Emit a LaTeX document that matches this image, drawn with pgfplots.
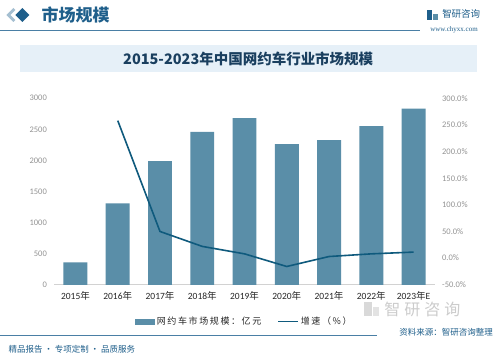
\documentclass[border=0pt]{standalone}
\usepackage{pgfplots}
\pgfplotsset{compat=1.18}
\usepackage{fontspec}
\setmainfont{Carlito}
\newfontfamily\cjk{Noto Sans CJK SC}
\newfontfamily\cjklight[LetterSpace=25]{Noto Sans CJK SC}
\newfontfamily\cjkleg[LetterSpace=18]{Noto Sans CJK SC}
\definecolor{barc}{HTML}{5A8EA8}
\definecolor{linec}{HTML}{0F5A7D}
\definecolor{hdr}{HTML}{1F5F8B}
\definecolor{ttl}{HTML}{1A3F5F}
\definecolor{banner}{HTML}{E6F0F8}
\definecolor{rule}{HTML}{4A7FA5}
\begin{document}
\begin{tikzpicture}[x=1pt,y=1pt]
\path[fill=white] (0,0) rectangle (499,358);
% header
\fill[hdr] (22,350) -- (29,343) -- (22,336) -- (15,343) -- cycle;
\fill[hdr!40] (13,350) -- (15,348) -- (10,343) -- (15,338) -- (13,336) -- (6,343) -- cycle;
\node[anchor=west, inner sep=0, text=hdr] at (41,343) {\cjk\bfseries\fontsize{17}{17}\selectfont 市场规模};
\draw[rule, line width=0.8pt] (0,328) -- (420,328);
\fill[hdr] (427,338) rectangle (432,348);
\fill[barc] (433,338) rectangle (438,344);
\node[anchor=west, inner sep=0, text=hdr] at (442,344) {\cjk\fontsize{9.5}{9.5}\selectfont 智研咨询};
\node[inner sep=0, text=hdr] at (454,328.5) {\fontspec{Liberation Serif}\fontsize{7}{7}\selectfont www.chyxx.com};
% banner
\fill[banner] (20,286) rectangle (477,313);
\node[inner sep=0, text=ttl] at (248,299.5) {\cjk\bfseries\fontsize{14.5}{14.5}\selectfont 2015-2023年中国网约车行业市场规模};
% watermark logo near legend
\fill[gray!30] (364,42) rectangle (372,56);
\fill[gray!22] (373,42) rectangle (379,51);
\node[anchor=west, inner sep=0, text=gray!40] at (384,48.5) {\cjklight\fontsize{16}{16}\selectfont 智研咨询};
% source and footer
\draw[rule, line width=0.6pt] (0,22) -- (377,22);
\node[anchor=east, inner sep=0, text=hdr] at (493,25) {\cjk\fontsize{8.5}{8.5}\selectfont 资料来源：智研咨询整理};
\node[anchor=west, inner sep=0, text=hdr] at (8,8.5) {\cjk\fontsize{8.5}{8.5}\selectfont 精品报告 · 专项定制 · 品质服务};
% bars
\begin{axis}[
  at={(54pt,73pt)}, anchor=south west, scale only axis,
  width=380.6pt, height=186.7pt,
  xmin=-0.5, xmax=8.5, ymin=0, ymax=3000,
  axis x line*=bottom, axis y line*=left,
  x axis line style={draw=gray!35, line width=0.6pt, -},
  y axis line style={draw=none},
  xtick={0,1,2,3,4,5,6,7,8},
  xticklabels={2015{\cjk 年},2016{\cjk 年},2017{\cjk 年},2018{\cjk 年},2019{\cjk 年},2020{\cjk 年},2021{\cjk 年},2022{\cjk 年},2023{\cjk 年}E},
  ytick={0,500,1000,1500,2000,2500,3000},
  major tick length=0pt,
  /pgf/number format/assume math mode=true,
  /pgf/number format/1000 sep={},
  yticklabel style={font=\fontsize{8.5}{8.5}\selectfont, text=gray!85, xshift=-4pt},
  xticklabel style={font=\fontsize{9.5}{9.5}\selectfont, text=black!85, yshift=-3pt},
]
\addplot[ybar, bar width=24pt, fill=barc, draw=none] coordinates {
(0,360) (1,1310) (2,1990) (3,2460) (4,2680) (5,2262) (6,2326) (7,2550) (8,2834)};
\end{axis}
% growth line
\begin{axis}[
  at={(54pt,73pt)}, anchor=south west, scale only axis,
  width=380.6pt, height=186.7pt,
  xmin=-0.5, xmax=8.5, ymin=-50, ymax=300,
  axis x line=none, axis y line*=right,
  y axis line style={draw=none},
  xtick=\empty,
  ytick={-50,0,50,100,150,200,250,300},
  major tick length=0pt,
  /pgf/number format/assume math mode=true,
  yticklabel={\pgfmathprintnumber[fixed,fixed zerofill,precision=1]{\tick}\%},
  yticklabel style={font=\fontsize{8.5}{8.5}\selectfont, text=gray!85, xshift=4pt},
  legend style={at={(0.5,-0.198)}, anchor=center, draw=none, fill=none,
    font=\cjkleg\fontsize{9}{9}\selectfont, legend columns=2, text=black!85,
    /tikz/every even column/.append style={column sep=14pt}},
]
\addlegendimage{legend image code/.code={\fill[barc] (0pt,-2.5pt) rectangle (19pt,2.5pt);}}
\addlegendentry{网约车市场规模：亿元}
\addplot[linec, line width=1.6pt, mark=none,
  legend image code/.code={\draw[linec, line width=1.5pt] (0pt,0pt) -- (20pt,0pt);}] coordinates {
(1,258) (2,50) (3,22) (4,8) (5,-15.7) (6,3) (7,8) (8,11.3)};
\addlegendentry{增速（\%）}
\end{axis}
\end{tikzpicture}
\end{document}
